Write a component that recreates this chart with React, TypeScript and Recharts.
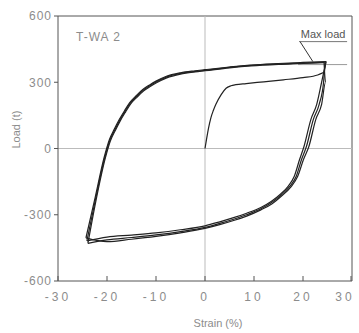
import { LineChart, Line, XAxis, YAxis, ReferenceLine } from "recharts";

// strain (%) vs load (t)
const strainTicks = [-30, -20, -10, 0, 10, 20, 30];
const loadTicks = [-600, -300, 0, 300, 600];

const initialLoading = [
  { strain: 0, load: 0 }, { strain: 0.3, load: 40 }, { strain: 0.7, load: 90 },
  { strain: 1.2, load: 139 }, { strain: 1.7, load: 172 }, { strain: 2.2, load: 199 },
  { strain: 3.3, load: 244 }, { strain: 4.3, load: 273 }, { strain: 5.3, load: 284 },
  { strain: 6.3, load: 289 }, { strain: 8.4, load: 294 }, { strain: 12, load: 302 },
  { strain: 16, load: 311 }, { strain: 20, load: 321 }, { strain: 23, load: 333 },
  { strain: 24.3, load: 345 },
];

// reloading branches (negative peak -> positive peak)
const cycle1Up = [
  { strain: -24.3, load: -405 }, { strain: -22.4, load: -220 }, { strain: -20.6, load: -42 },
  { strain: -19.5, load: 41 }, { strain: -18.5, load: 88 }, { strain: -17.5, load: 131 },
  { strain: -16.4, load: 172 }, { strain: -15.4, load: 207 }, { strain: -14, load: 240 },
  { strain: -12.7, load: 267 }, { strain: -11.3, load: 288 }, { strain: -10, load: 305 },
  { strain: -8, load: 326 }, { strain: -5, load: 343 }, { strain: -2, load: 352 },
  { strain: 0, load: 357 }, { strain: 5, load: 369 }, { strain: 9.4, load: 378 },
  { strain: 15, load: 385 }, { strain: 20, load: 390 }, { strain: 24.7, load: 394 },
];
const cycle2Up = [
  { strain: -24.1, load: -418 }, { strain: -22.3, load: -225 }, { strain: -20.5, load: -45 },
  { strain: -19.4, load: 38 }, { strain: -18.4, load: 85 }, { strain: -17.4, load: 128 },
  { strain: -16.3, load: 169 }, { strain: -15.3, load: 204 }, { strain: -13.9, load: 237 },
  { strain: -12.6, load: 264 }, { strain: -11.2, load: 285 }, { strain: -9.9, load: 302 },
  { strain: -7.9, load: 323 }, { strain: -5, load: 340 }, { strain: -2, load: 349 },
  { strain: 0, load: 354 }, { strain: 5, load: 367 }, { strain: 9.4, load: 376 },
  { strain: 15, load: 383 }, { strain: 20, load: 387 }, { strain: 24.5, load: 391 },
];
const cycle3Up = [
  { strain: -23.9, load: -430 }, { strain: -22.2, load: -230 }, { strain: -20.4, load: -48 },
  { strain: -19.3, load: 35 }, { strain: -18.3, load: 82 }, { strain: -17.3, load: 125 },
  { strain: -16.2, load: 166 }, { strain: -15.2, load: 201 }, { strain: -13.8, load: 234 },
  { strain: -12.5, load: 261 }, { strain: -11.1, load: 282 }, { strain: -9.8, load: 299 },
  { strain: -7.8, load: 320 }, { strain: -5, load: 337 }, { strain: -2, load: 347 },
  { strain: 0, load: 352 }, { strain: 5, load: 365 }, { strain: 9.4, load: 374 },
  { strain: 15, load: 381 }, { strain: 20, load: 385 }, { strain: 24.3, load: 389 },
];

// unloading branches (positive peak -> negative peak), listed by increasing strain
const cycle1Down = [
  { strain: -24.1, load: -418 }, { strain: -20, load: -401 }, { strain: -15, load: -392 },
  { strain: -10, load: -382 }, { strain: -5, load: -368 }, { strain: 0, load: -350 },
  { strain: 3, load: -332 }, { strain: 6, load: -312 }, { strain: 8.5, load: -293 },
  { strain: 11.4, load: -267 }, { strain: 13.5, load: -240 }, { strain: 15.5, load: -205 },
  { strain: 17, load: -170 }, { strain: 18.2, load: -127 }, { strain: 19.3, load: -50 },
  { strain: 20.2, load: 9 }, { strain: 21.6, load: 131 }, { strain: 22.8, load: 200 },
  { strain: 23.8, load: 300 }, { strain: 24.7, load: 394 },
];
const cycle2Down = [
  { strain: -23.9, load: -430 }, { strain: -20, load: -414 }, { strain: -15, load: -403 },
  { strain: -10, load: -391 }, { strain: -5, load: -376 }, { strain: 0, load: -357 },
  { strain: 3, load: -339 }, { strain: 6, load: -319 }, { strain: 8.5, load: -300 },
  { strain: 11.4, load: -273 }, { strain: 13.6, load: -245 }, { strain: 15.7, load: -208 },
  { strain: 17.3, load: -172 }, { strain: 18.6, load: -127 }, { strain: 19.7, load: -50 },
  { strain: 20.7, load: 9 }, { strain: 22.1, load: 131 }, { strain: 23.3, load: 200 },
  { strain: 24.2, load: 300 }, { strain: 24.5, load: 391 },
];
const cycle3Down = [
  { strain: -24.3, load: -405 }, { strain: -20, load: -422 }, { strain: -15, load: -411 },
  { strain: -10, load: -398 }, { strain: -5, load: -382 }, { strain: 0, load: -362 },
  { strain: 3, load: -345 }, { strain: 6, load: -325 }, { strain: 8.5, load: -306 },
  { strain: 11.4, load: -278 }, { strain: 13.7, load: -250 }, { strain: 15.8, load: -212 },
  { strain: 17.5, load: -175 }, { strain: 18.9, load: -127 }, { strain: 20.1, load: -50 },
  { strain: 21.2, load: 9 }, { strain: 22.6, load: 131 }, { strain: 23.8, load: 200 },
  { strain: 24.6, load: 300 }, { strain: 24.3, load: 389 },
];

const maxLoadLevel = 380;

const textGrey = "#8c8c8c";
const axisGrey = "#555";

const StrainTick = (props: any) => {
  const { x, y, payload } = props;
  const shift = payload.value === 30 ? -6 : 0;
  return (
    <g>
      <line x1={x} y1={y} x2={x} y2={y - 5} stroke={axisGrey} />
      <text x={x + shift} y={y + 20} textAnchor="middle" fill={textGrey} fontSize={12} letterSpacing={3}
        fontFamily="Liberation Sans">
        {payload.value}
      </text>
    </g>
  );
};

const MaxLoadLabel = (props: any) => {
  const { viewBox } = props;
  return (
    <text x={viewBox.x + viewBox.width / 2} y={viewBox.y - 4} textAnchor="middle"
      fill="#555" fontSize={11} fontFamily="Liberation Sans">
      Max load
    </text>
  );
};

const App = () => {
  const line = (data: any[], key: string, curve: any = "monotoneX") => (
    <Line key={key} data={data} dataKey="load" type={curve} stroke="#222" strokeWidth={1.2}
      dot={false} isAnimationActive={false} />
  );
  return (
    <div style={{ position: "absolute", left: 0, top: 0 }}>
      <LineChart width={359} height={333} margin={{ top: 16, right: 7, bottom: 4, left: 0 }}>
        <XAxis dataKey="strain" type="number" domain={[-30, 30]} ticks={strainTicks}
          allowDuplicatedCategory={false} height={48} stroke={axisGrey} tickLine={false}
          tickSize={0} tickMargin={0} tick={<StrainTick />}
          label={{ value: "Strain (%)", position: "insideBottom", offset: 2, dx: 13,
            fill: textGrey, fontSize: 11, fontFamily: "Liberation Sans" }} />
        <YAxis type="number" domain={[-600, 600]} ticks={loadTicks} width={58} stroke={axisGrey}
          tickSize={4} tickMargin={2}
          tick={{ fill: textGrey, fontSize: 12, fontFamily: "Liberation Sans", letterSpacing: 1 }}
          label={{ value: "Load (t)", angle: -90, position: "insideLeft", offset: 16,
            fill: textGrey, fontSize: 11, fontFamily: "Liberation Sans" }} />
        <ReferenceLine x={30} stroke={axisGrey} />
        <ReferenceLine y={600} stroke={axisGrey} />
        <ReferenceLine x={0} stroke="#bbb" />
        <ReferenceLine y={0} stroke="#bbb" />
        <ReferenceLine segment={[{ x: 19, y: maxLoadLevel }, { x: 29, y: maxLoadLevel }]}
          stroke="#999" />
        <ReferenceLine segment={[{ x: 19.2, y: 484 }, { x: 29, y: 484 }]} stroke="#777"
          label={<MaxLoadLabel />} />
        <ReferenceLine segment={[{ x: 19.4, y: 484 }, { x: 22, y: 394 }]} stroke="#333" />
        {line(initialLoading, "initial")}
        {line([initialLoading[initialLoading.length - 1], cycle1Down[cycle1Down.length - 1]], "toPeak", "linear")}
        {line(cycle1Up, "u1")}
        {line(cycle2Up, "u2")}
        {line(cycle3Up, "u3")}
        {line(cycle1Down, "d1")}
        {line(cycle2Down, "d2")}
        {line(cycle3Down, "d3")}
      </LineChart>
      <div style={{ position: "absolute", left: 76, top: 30, color: textGrey, fontSize: 12,
        fontFamily: "Liberation Sans", letterSpacing: 1 }}>
        T-WA 2
      </div>
    </div>
  );
};

export default App;
